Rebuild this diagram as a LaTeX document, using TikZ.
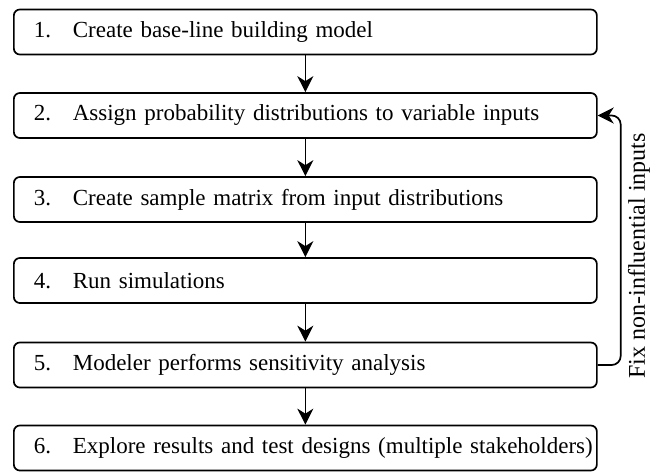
\documentclass[tikz,border=0pt]{standalone}
\usepackage{fontspec}
\setmainfont{Liberation Serif}
\usetikzlibrary{arrows.meta}
\begin{document}
\begin{tikzpicture}[x=1pt,y=-1pt,
  stepbox/.style={draw, line width=1.7pt, rounded corners=6pt, rectangle,
    minimum width=583pt, minimum height=45pt, text width=543pt, inner xsep=20pt,
    align=left, anchor=west, font=\fontsize{23}{26}\selectfont},
  flow/.style={line width=1.7pt, -{Stealth[length=16pt,width=16pt,inset=5pt]}}]
\useasboundingbox (0,0) rectangle (661,471);
\newcommand{\stepnum}[1]{\makebox[39pt][l]{#1}}
\node[stepbox] (b1) at (13,32) {\mbox{\stepnum{1.}Create base-line building model}};
\node[stepbox] (b2) at (13,115.5) {\mbox{\stepnum{2.}Assign probability distributions to variable inputs}};
\node[stepbox] (b3) at (13,199.5) {\mbox{\stepnum{3.}Create sample matrix from input distributions}};
\node[stepbox] (b4) at (13,280.5) {\mbox{\stepnum{4.}Run simulations}};
\node[stepbox] (b5) at (13,365) {\mbox{\stepnum{5.}Modeler performs sensitivity analysis}};
\node[stepbox] (b6) at (13,448) {\mbox{\stepnum{6.}Explore results and test designs (multiple stakeholders)}};
\draw[flow] (b1.south) -- (b2.north);
\draw[flow] (b2.south) -- (b3.north);
\draw[flow] (b3.south) -- (b4.north);
\draw[flow] (b4.south) -- (b5.north);
\draw[flow] (b5.south) -- (b6.north);
\coordinate (fb) at ([xshift=23pt]b5.east);
\draw[flow, rounded corners=9pt] (b5.east) -- (fb) |- (b2.east);
\node[rotate=90, font=\fontsize{24}{27}\selectfont] (lbl) at (639,256) {Fix non-influential inputs};
\end{tikzpicture}
\end{document}
